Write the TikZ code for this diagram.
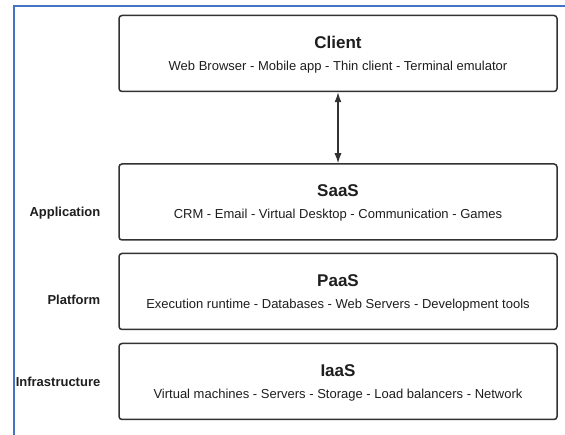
\documentclass[tikz,border=0pt]{standalone}
\usepackage{fontspec}
\setmainfont{Liberation Sans}
\usetikzlibrary{arrows.meta}
\definecolor{framblue}{RGB}{68,114,196}
\definecolor{boxline}{RGB}{50,50,50}
\definecolor{txt}{RGB}{30,30,30}
\tikzset{
  layerbox/.style={draw=boxline, line width=1.5pt, rounded corners=3pt, minimum width=438pt, minimum height=76pt, inner sep=0pt, fill=white},
  ttl/.style={anchor=base, font=\fontsize{17}{20}\selectfont\bfseries, text=txt, inner sep=0pt},
  sub/.style={anchor=base, font=\fontsize{13}{15}\selectfont, text=txt, inner sep=0pt},
  side/.style={anchor=base east, font=\fontsize{13}{15}\selectfont\bfseries, text=txt, inner sep=0pt},
  conn/.style={draw=boxline, line width=1.3pt, {Latex[length=10pt,width=7pt]}-{Latex[length=10pt,width=7pt]}}
}
\begin{document}
\begin{tikzpicture}[x=1pt,y=1pt]
\useasboundingbox (0,0) rectangle (565,-435);
\fill[white] (0,0) rectangle (565,-435);
% blue frame
\draw[framblue, line width=2pt] (14,-435) -- (14,-6) -- (565,-6);
% boxes
\node[layerbox] (client) at (338,-53.5) {};
\node[layerbox] (saas) at (338,-202) {};
\node[layerbox] (paas) at (338,-291.5) {};
\node[layerbox] (iaas) at (338,-381.5) {};
% texts
\node[ttl] (clientT) at ([yshift=5pt]client.center) {Client};
\node[sub] (clientS) at ([yshift=-17pt]client.center) {Web Browser - Mobile app - Thin client - Terminal emulator};
\node[ttl] (saasT) at ([yshift=5pt]saas.center) {SaaS};
\node[sub] (saasS) at ([yshift=-17pt]saas.center) {CRM - Email - Virtual Desktop - Communication - Games};
\node[ttl] (paasT) at ([yshift=5pt]paas.center) {PaaS};
\node[sub] (paasS) at ([yshift=-17pt]paas.center) {Execution runtime - Databases - Web Servers - Development tools};
\node[ttl] (iaasT) at ([yshift=5pt]iaas.center) {IaaS};
\node[sub] (iaasS) at ([yshift=-17pt]iaas.center) {Virtual machines - Servers - Storage - Load balancers - Network};
% side labels
\node[side] (app) at (100.5,-217) {Application};
\node[side] (plat) at (100.5,-305) {Platform};
\node[side] (infra) at (100.5,-387) {Infrastructure};
% connector
\draw[conn] (client.south) -- (saas.north);
\end{tikzpicture}
\end{document}
